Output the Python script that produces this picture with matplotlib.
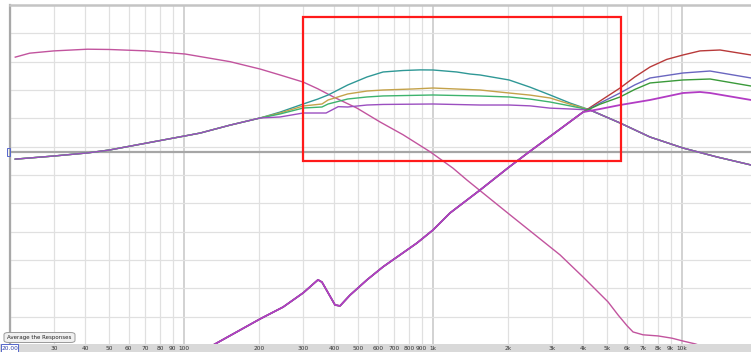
#!/usr/bin/env python3

import matplotlib
matplotlib.use('Agg')
import matplotlib.pyplot as plt
import matplotlib.transforms as mtransforms
from matplotlib.patches import Rectangle, FancyBboxPatch

# Woofer response (falls off towards the top end)
woofer_f = [21, 24, 30, 41, 50, 71, 101, 116, 153, 202, 243, 301, 345, 397, 495, 613, 758,
            973, 1203, 1369, 2020, 3236, 4003, 5045, 5534, 6013, 6357, 6970, 8010, 9115, 10090, 11280, 13000]
woofer_db = [90.8, 91.5, 91.9, 92.2, 92.15, 91.9, 91.35, 90.9, 90.0, 88.7, 87.65, 86.4, 85.2, 83.8, 81.8,
             79.35, 77.1, 74.1, 71.2, 69.1, 63.1, 55.9, 52.0, 47.6, 45.3, 43.4, 42.3, 41.8, 41.6, 41.2,
             40.7, 40.2, 39.3]

# Midrange responses, shared low end then four variants
mid_low_f = [21, 30, 41, 50, 71, 101, 116, 153, 202]
mid_low_db = [72.8, 73.35, 73.9, 74.4, 75.65, 76.9, 77.4, 78.8, 80.06]
mid_high_f = [4271, 5636, 7438, 10090, 13820, 18920]
mid_high_db = [81.47, 79.18, 76.7, 74.76, 73.18, 71.77]

mid_f = {
    'teal': [243, 301, 345, 379, 454, 543, 630, 758, 887, 1000, 1245, 1408, 1545, 2020, 2453, 2951, 3549],
    'gold': [243, 301, 358, 379, 454, 543, 630, 830, 1000, 1545, 2020, 2453, 2951, 3549],
    'green': [243, 301, 358, 379, 454, 543, 630, 1000, 1545, 2020, 2453, 2951, 3549],
    'purple': [243, 301, 372, 416, 454, 543, 630, 1000, 1545, 2020, 2453, 2951, 3549],
}
mid_db = {
    'teal': [81.1, 82.53, 83.41, 84.12, 85.88, 87.3, 88.18, 88.44, 88.55, 88.53, 88.18, 87.82, 87.65,
             86.77, 85.5, 84.12, 82.7],
    'gold': [80.94, 82.18, 82.53, 83.24, 84.3, 84.82, 85.0, 85.18, 85.35, 85.0, 84.47, 84.1, 83.59, 82.5],
    'green': [80.77, 81.82, 82.0, 82.53, 83.41, 83.77, 83.95, 84.12, 83.94, 83.77, 83.4, 82.88, 82.2],
    'purple': [80.24, 80.94, 80.94, 82.06, 82.0, 82.35, 82.45, 82.53, 82.35, 82.35, 82.2, 81.8, 81.65],
}

# Tweeter responses, shared low end then four variants
tw_low_f = [125, 202, 250, 301, 345, 358, 379, 404, 423, 464, 543, 630, 737, 862,
            1000, 1170, 1545, 2020, 2453, 2951, 4003]
tw_low_db = [39.5, 44.6, 46.7, 49.2, 51.5, 51.1, 49.2, 47.06, 46.9, 48.8, 51.5, 53.8, 55.9, 58.0,
             60.3, 63.3, 67.35, 71.4, 74.2, 76.8, 81.1]
tw_f = {
    'red': [4686, 5636, 6460, 7438, 8680, 10090, 11810, 14210, 18920],
    'blue': [4686, 5636, 6460, 7438, 10090, 12955, 18920],
    'green': [4686, 5636, 6460, 7438, 10090, 12955, 18920],
    'purple': [4686, 5636, 7438, 10090, 11810, 12955, 18920],
}
tw_db = {
    'red': [83.06, 85.35, 87.3, 89.06, 90.4, 91.18, 91.9, 92.06, 91.18],
    'blue': [82.7, 84.47, 85.9, 87.12, 88.0, 88.35, 87.12],
    'green': [82.5, 83.77, 85.1, 86.24, 86.77, 86.94, 85.7],
    'purple': [81.65, 82.35, 83.24, 84.47, 84.65, 84.47, 83.24],
}

ref_level = 74.06
minor_freqs = [20, 30, 40, 50, 60, 70, 80, 90, 200, 300, 400, 500, 600, 700, 800, 900,
               2000, 3000, 4000, 5000, 6000, 7000, 8000, 9000]
major_freqs = [100, 1000, 10000]
tick_freqs = [30, 40, 50, 60, 70, 80, 90, 100, 200, 300, 400, 500, 600, 700, 800, 900,
              1000, 2000, 3000, 4000, 5000, 6000, 7000, 8000, 9000, 10000]
tick_labels = ['30', '40', '50', '60', '70', '80', '90', '100', '200', '300', '400', '500',
               '600', '700', '800', '900', '1k', '2k', '3k', '4k', '5k', '6k', '7k', '8k', '9k', '10k']

W, H = 751, 352
fig = plt.figure(figsize=(W / 100, H / 100), dpi=100)
fig.patch.set_facecolor('white')
ax = fig.add_axes([10 / W, 7 / H, 741 / W, 340 / H])
ax.set_xscale('log')
ax.set_xlim(20, 18920)
ax.set_ylim(40, 100)
ax.set_xticks([])
ax.set_yticks([])
ax.minorticks_off()

for s in ['right', 'bottom']:
    ax.spines[s].set_visible(False)
ax.spines['left'].set_color('#a8a8a8')
ax.spines['left'].set_linewidth(1.6)
ax.spines['top'].set_color('#c4c4c4')
ax.spines['top'].set_linewidth(1.8)

# grid
for f in minor_freqs:
    ax.axvline(f, color='#e0e0e0', lw=0.9, zorder=0)
for f in major_freqs:
    ax.axvline(f, color='#c6c6c6', lw=1.1, zorder=0)
for lvl in range(45, 100, 5):
    ax.axhline(lvl, color='#e0e0e0', lw=0.9, zorder=0)
ax.axhline(ref_level, color='#a6a6a6', lw=1.6, zorder=1)

lw = 1.0
ax.plot(woofer_f, woofer_db, color='#c2549e', lw=lw, zorder=3)

mid_colors = {'teal': '#2f9896', 'gold': '#c4a24a', 'green': '#3db36e', 'purple': '#9b4fc0'}
for name in ['teal', 'gold', 'green', 'purple']:
    f = mid_low_f + mid_f[name] + mid_high_f
    db = mid_low_db + mid_db[name] + mid_high_db
    ax.plot(f, db, color=mid_colors[name], lw=lw, zorder=3)

tw_colors = {'red': '#b83a3a', 'blue': '#6a66c0', 'green': '#3a9a3a', 'purple': '#b23cc4'}
for name in ['red', 'blue', 'green', 'purple']:
    f = tw_low_f + tw_f[name]
    db = tw_low_db + tw_db[name]
    ax.plot(f, db, color=tw_colors[name], lw=1.3 if name == 'purple' else lw, zorder=3)

# highlight box
ax.add_patch(Rectangle((301, 72.47), 5688 - 301, 97.88 - 72.47, fill=False,
                       edgecolor='#ff1a1a', lw=1.6, zorder=5))

# bottom strip with frequency labels
fig.patches.append(Rectangle((0, 0), 1, 8 / H, transform=fig.transFigure,
                             facecolor='#d9d9d9', edgecolor='none', zorder=0))
trans = mtransforms.blended_transform_factory(ax.transData, fig.transFigure)
for f, lab in zip(tick_freqs, tick_labels):
    fig.text(f, 4 / H, lab, transform=trans, ha='center', va='center', fontsize=4.2, color='#333333')

# start frequency field and reference marker
fig.patches.append(Rectangle((0.5 / W, 0.5 / H), 17 / W, 7.5 / H, transform=fig.transFigure,
                             facecolor='white', edgecolor='#5566cc', lw=0.7, zorder=2))
fig.text(2 / W, 4 / H, '20.00', ha='left', va='center', fontsize=4.2, color='#3344aa')
ref_y = 7 / H + (ref_level - 40) / 60 * 340 / H
fig.patches.append(Rectangle((7 / W, ref_y - 4 / H), 3 / W, 8 / H, transform=fig.transFigure,
                             facecolor='none', edgecolor='#5566cc', lw=0.7, zorder=2))

# button
fig.patches.append(FancyBboxPatch((4 / W, 9.5 / H), 71 / W, 10 / H, transform=fig.transFigure,
                                  boxstyle='round,pad=0,rounding_size=0.006',
                                  facecolor='#f0f0f0', edgecolor='#9a9a9a', lw=0.7, zorder=6))
fig.text(39.5 / W, 14.5 / H, 'Average the Responses', ha='center', va='center',
         fontsize=4.0, color='#222222', zorder=7)

fig.savefig('out.png', dpi=100)
